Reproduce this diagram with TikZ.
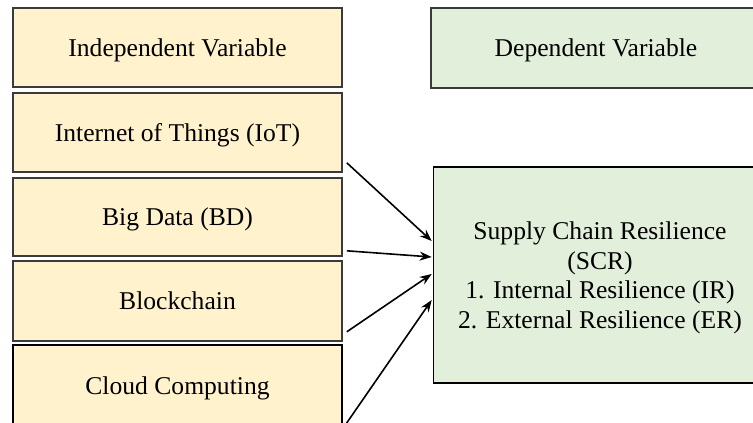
\documentclass[tikz,border=0pt]{standalone}
\usepackage{fontspec}
\setmainfont{Liberation Serif}
\usetikzlibrary{calc,arrows.meta}
\definecolor{ivfill}{HTML}{FFF2CC}
\definecolor{dvfill}{HTML}{E2EFDA}
\definecolor{edge}{HTML}{3A3A3A}
\begin{document}
\begin{tikzpicture}[x=1pt,y=-1pt,
  ivbox/.style={draw=edge,line width=1.6pt,fill=ivfill,minimum width=329pt,inner sep=0pt,
    font=\fontsize{25.6}{29.7}\selectfont,align=center,text depth=0pt},
  dvbox/.style={draw=edge,line width=1.6pt,fill=dvfill,inner sep=0pt,
    font=\fontsize{25.6}{29.7}\selectfont,align=center,text depth=0pt},
  link/.style={line width=1.6pt,-{Stealth[length=12pt,width=9pt]}}]
\useasboundingbox (0,0) rectangle (753,423);
\node[ivbox,minimum height=79pt] (iv) at (177.5,47.5) {Independent Variable};
\node[ivbox,minimum height=79pt] (iot) at (177.5,132.5) {Internet of Things (IoT)};
\node[ivbox,minimum height=78pt] (bd) at (177.5,217) {Big Data (BD)};
\node[ivbox,minimum height=80pt] (bc) at (177.5,301) {Blockchain};
\node[ivbox,draw=black,line width=2pt,minimum height=82pt] (cc) at (177.5,386) {Cloud Computing};
\node[dvbox,minimum width=330pt,minimum height=80pt] (dv) at (596,48) {Dependent Variable};
\node[dvbox,draw=black,minimum width=333pt,minimum height=216pt] (scr) at (600,275)
  {Supply Chain Resilience\\(SCR)\\1. Internal Resilience (IR)\\2. External Resilience (ER)};
\draw[link] ($(iot.south east)+(4,-10)$) -- ($(scr.west)+(-1,-34)$);
\draw[link] ($(bd.south east)+(4,-6)$) -- ($(scr.west)+(-1,-18)$);
\draw[link] ($(bc.south east)+(4,-10)$) -- ($(scr.west)+(-1,-1)$);
\draw[link] ($(cc.south east)+(3,-4)$) -- ($(scr.west)+(-1,25)$);
\end{tikzpicture}
\end{document}
